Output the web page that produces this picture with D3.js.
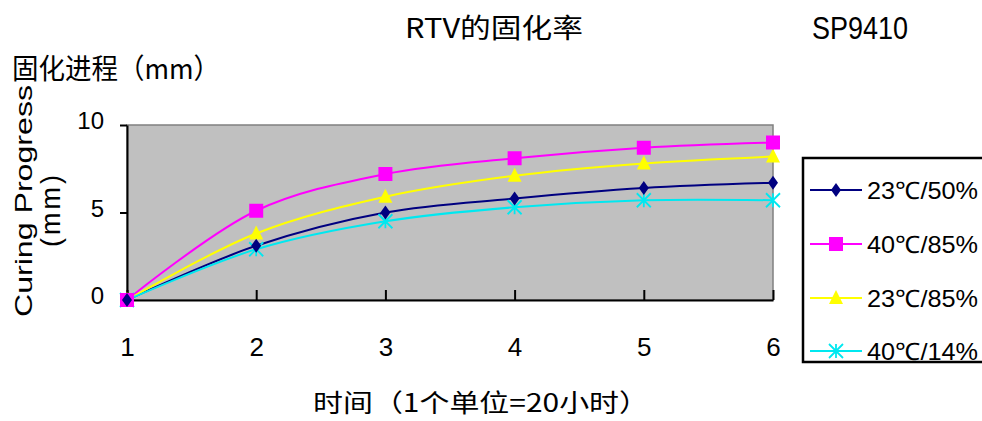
<!DOCTYPE html>
<html lang="zh">
<head>
<meta charset="UTF-8">
<title>RTV的固化率</title>
<script src="https://d3js.org/d3.v7.min.js"></script>
<style>
  body { margin: 0; background: #fff; }
  .serif { font-family: "Noto Sans CJK SC", serif; }
  .sans { font-family: "Liberation Sans", Arial, sans-serif; }
</style>
</head>
<body>
<svg width="982" height="421"></svg>
<script>
  // data
  const times = [1, 2, 3, 4, 5, 6];
  const seriesNames = ["23℃/50%", "40℃/85%", "23℃/85%", "40℃/14%"];
  const s2350 = [0, 3.1, 5.0, 5.8, 6.4, 6.7];
  const s4085 = [0, 5.1, 7.2, 8.1, 8.7, 9.0];
  const s2385 = [0, 3.8, 5.9, 7.1, 7.8, 8.2];
  const s4014 = [0, 2.9, 4.5, 5.3, 5.7, 5.7];
  const yTicks = [0, 5, 10];

  const colors = ["#000080", "#ff00ff", "#ffff00", "#00e8f0"];
  const shapes = ["diamond", "square", "triangle", "star"];
  const allSeries = [s2350, s4085, s2385, s4014];

  const svg = d3.select("svg");
  const x = d3.scaleLinear().domain([1, 6]).range([127, 773]);
  const y = d3.scaleLinear().domain([0, 10]).range([300, 125]);

  // plot background
  svg.append("rect")
    .attr("x", x(1)).attr("y", y(10))
    .attr("width", x(6) - x(1)).attr("height", y(0) - y(10))
    .attr("fill", "#c0c0c0")
    .attr("stroke", "#808080").attr("stroke-width", 1.5);

  // axes
  const xAxis = d3.axisBottom(x).tickValues(times).tickFormat(d3.format("d"))
    .tickSizeInner(-10).tickSizeOuter(0).tickPadding(38);
  svg.append("g").attr("transform", `translate(0,${y(0)})`).call(xAxis)
    .call(g => g.select(".domain").attr("stroke", "#000").attr("stroke-width", 2))
    .call(g => g.selectAll(".tick line").attr("stroke", "#000").attr("stroke-width", 2))
    .call(g => g.selectAll(".tick text")
      .attr("font-family", "Liberation Sans, Arial, sans-serif").attr("font-size", 26)
      .attr("fill", "#000"));

  const yAxis = d3.axisLeft(y).tickValues(yTicks).tickSizeInner(7).tickSizeOuter(0).tickPadding(16);
  svg.append("g").attr("transform", `translate(${x(1)},0)`).call(yAxis)
    .call(g => g.select(".domain").attr("stroke", "#000").attr("stroke-width", 2))
    .call(g => g.selectAll(".tick line").attr("stroke", "#000").attr("stroke-width", 2))
    .call(g => g.selectAll(".tick text")
      .attr("font-family", "Liberation Sans, Arial, sans-serif").attr("font-size", 24)
      .attr("fill", "#000").attr("dy", "0.15em"));

  // lines
  const line = d3.line()
    .x((d, i) => x(times[i]))
    .y(d => y(d))
    .curve(d3.curveCatmullRom.alpha(0.5));

  allSeries.forEach((vals, k) => {
    svg.append("path")
      .datum(vals)
      .attr("fill", "none")
      .attr("stroke", colors[k])
      .attr("stroke-width", 2)
      .attr("d", line);
  });

  function marker(g, shape, color, cx, cy) {
    if (shape === "diamond") {
      g.append("path").attr("d", `M${cx},${cy-7}L${cx+5},${cy}L${cx},${cy+7}L${cx-5},${cy}Z`).attr("fill", color);
    } else if (shape === "square") {
      g.append("rect").attr("x", cx - 7).attr("y", cy - 7).attr("width", 14).attr("height", 14).attr("fill", color);
    } else if (shape === "triangle") {
      g.append("path").attr("d", `M${cx},${cy-8}L${cx+7},${cy+6}L${cx-7},${cy+6}Z`).attr("fill", color);
    } else {
      g.append("path")
        .attr("d", `M${cx-7},${cy-7}L${cx+7},${cy+7}M${cx+7},${cy-7}L${cx-7},${cy+7}M${cx},${cy-7}L${cx},${cy+7}`)
        .attr("stroke", color).attr("stroke-width", 1.8).attr("fill", "none");
    }
  }

  // markers drawn in reverse so first series sits on top
  [3, 2, 1, 0].forEach(k => {
    const g = svg.append("g");
    allSeries[k].forEach((v, i) => marker(g, shapes[k], colors[k], x(times[i]), y(v)));
  });

  // legend
  svg.append("rect")
    .attr("x", 803).attr("y", 158).attr("width", 190).attr("height", 204)
    .attr("fill", "#fff").attr("stroke", "#000").attr("stroke-width", 2.5);
  const legendY = [190, 244, 298, 351];
  seriesNames.forEach((name, k) => {
    const g = svg.append("g");
    g.append("line").attr("x1", 810).attr("x2", 862).attr("y1", legendY[k]).attr("y2", legendY[k])
      .attr("stroke", colors[k]).attr("stroke-width", 2);
    marker(g, shapes[k], colors[k], 836, legendY[k]);
    g.append("text").attr("class", "sans").attr("x", 867).attr("y", legendY[k] + 9)
      .attr("font-size", 24).attr("textLength", 111).attr("lengthAdjust", "spacingAndGlyphs")
      .text(name);
  });

  // titles
  svg.append("text").attr("class", "serif").attr("x", 405).attr("y", 38)
    .attr("font-size", 27).attr("textLength", 178).attr("lengthAdjust", "spacingAndGlyphs")
    .text("RTV的固化率");
  svg.append("text").attr("class", "sans").attr("x", 812).attr("y", 39)
    .attr("font-size", 31).attr("textLength", 96).attr("lengthAdjust", "spacingAndGlyphs")
    .text("SP9410");
  svg.append("text").attr("class", "serif").attr("x", 12).attr("y", 79)
    .attr("font-size", 28).attr("textLength", 208).attr("lengthAdjust", "spacingAndGlyphs")
    .text("固化进程（mm）");

  // rotated y title, two lines
  svg.append("text").attr("class", "sans")
    .attr("transform", "translate(32,201) rotate(-90)")
    .attr("text-anchor", "middle").attr("font-size", 24)
    .attr("textLength", 232).attr("lengthAdjust", "spacingAndGlyphs")
    .text("Curing Progress");
  svg.append("text").attr("class", "sans")
    .attr("transform", "translate(60,211) rotate(-90)")
    .attr("text-anchor", "middle").attr("font-size", 27)
    .attr("textLength", 72).attr("lengthAdjust", "spacing")
    .text("(mm)");

  svg.append("text").attr("class", "serif").attr("x", 313).attr("y", 412)
    .attr("font-size", 25)
    .attr("textLength", 336).attr("lengthAdjust", "spacingAndGlyphs")
    .text("时间（1个单位=20小时）");
</script>
</body>
</html>
